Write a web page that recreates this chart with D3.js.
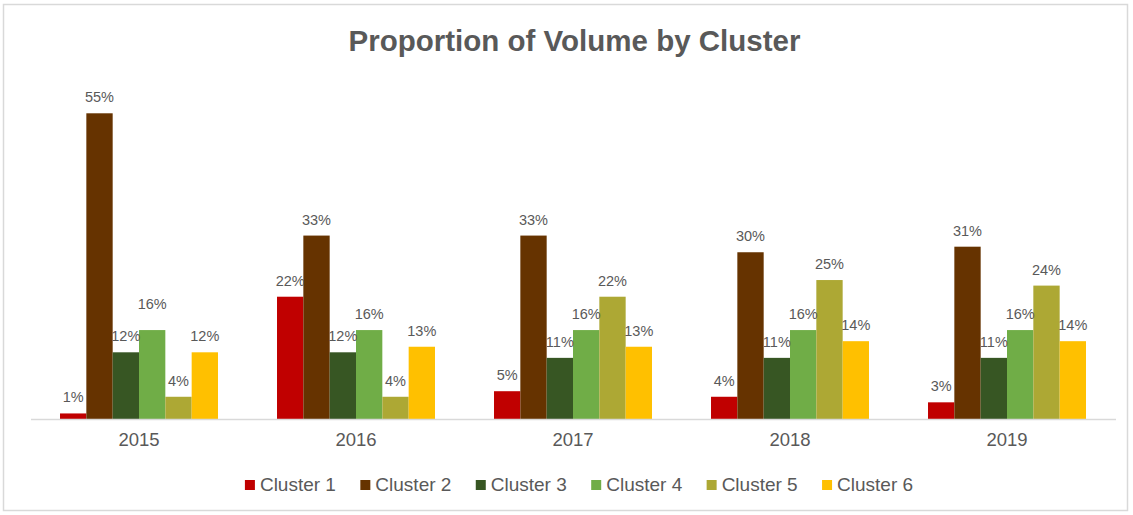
<!DOCTYPE html>
<html>
<head>
<meta charset="utf-8">
<script src="https://cdn.jsdelivr.net/npm/d3@7/dist/d3.min.js"></script>
<style>
  html, body { margin: 0; padding: 0; background: #ffffff; }
  svg { display: block; font-family: "Liberation Sans", Arial, sans-serif; }
</style>
</head>
<body>
<svg id="chart" width="1133" height="515"></svg>
<script>
// Years on the category axis
const years = ["2015", "2016", "2017", "2018", "2019"];
// Series names
const clusters = ["Cluster 1", "Cluster 2", "Cluster 3", "Cluster 4", "Cluster 5", "Cluster 6"];
// Share of volume per cluster, in percent, one value per year
const cluster1 = [1, 22, 5, 4, 3];
const cluster2 = [55, 33, 33, 30, 31];
const cluster3 = [12, 12, 11, 11, 11];
const cluster4 = [16, 16, 16, 16, 16];
const cluster5 = [4, 4, 22, 25, 24];
const cluster6 = [12, 13, 13, 14, 14];

const seriesValues = [cluster1, cluster2, cluster3, cluster4, cluster5, cluster6];
const colors = ["#C00000", "#663300", "#375623", "#70AD47", "#ADA834", "#FFC000"];

const svg = d3.select("#chart");
const plot = { left: 30.5, right: 1115.5, top: 85.5, bottom: 419 };
const textColor = "#595959";

// Chart frame
svg.append("rect")
  .attr("x", 3.5).attr("y", 4.5)
  .attr("width", 1124).attr("height", 506)
  .attr("fill", "#ffffff")
  .attr("stroke", "#D9D9D9").attr("stroke-width", 1.5);

// Title
svg.append("text")
  .attr("x", 574.5).attr("y", 51)
  .attr("text-anchor", "middle")
  .attr("font-size", 29.5).attr("font-weight", "bold")
  .attr("fill", textColor)
  .text("Proportion of Volume by Cluster");

// Scales
const x0 = d3.scaleBand().domain(years)
  .range([plot.left, plot.right])
  .paddingInner(0.272).paddingOuter(0.136);
const x1 = d3.scaleBand().domain(clusters).range([0, x0.bandwidth()]);
const y = d3.scaleLinear().domain([0, 60]).range([plot.bottom, plot.top]);

const color = d3.scaleOrdinal().domain(clusters).range(colors);

// Flatten into one record per bar
const rows = [];
years.forEach((yr, i) => {
  clusters.forEach((c, j) => {
    rows.push({ year: yr, cluster: c, value: seriesValues[j][i] });
  });
});

// Bars
const groups = svg.append("g").selectAll("g")
  .data(years).join("g")
  .attr("transform", d => `translate(${x0(d)},0)`);

groups.selectAll("rect")
  .data(yr => rows.filter(r => r.year === yr))
  .join("rect")
  .attr("x", d => x1(d.cluster))
  .attr("y", d => y(d.value))
  .attr("width", x1.bandwidth())
  .attr("height", d => y(0) - y(d.value))
  .attr("fill", d => color(d.cluster));

// Value labels above each bar (one label lifted where it would collide)
const labelLift = { "2015|Cluster 4": 10 };
groups.selectAll("text")
  .data(yr => rows.filter(r => r.year === yr))
  .join("text")
  .attr("x", d => x1(d.cluster) + x1.bandwidth() / 2)
  .attr("y", d => y(d.value) - 11 - (labelLift[d.year + "|" + d.cluster] || 0))
  .attr("text-anchor", "middle")
  .attr("font-size", 14.5)
  .attr("fill", textColor)
  .text(d => d.value + "%");

// Category axis
const xAxis = svg.append("g")
  .attr("transform", `translate(0,${plot.bottom})`)
  .call(d3.axisBottom(x0).tickSize(0).tickPadding(14).tickSizeOuter(0));
xAxis.select(".domain").attr("stroke", "#D9D9D9").attr("stroke-width", 1.5);
xAxis.selectAll("text")
  .attr("font-size", 18.5)
  .attr("font-family", "Liberation Sans, Arial, sans-serif")
  .attr("fill", textColor);

// Legend, centred under the plot
const legend = svg.append("g");
const items = legend.selectAll("g").data(clusters).join("g");
items.append("rect")
  .attr("width", 10).attr("height", 10)
  .attr("y", -10)
  .attr("fill", d => color(d));
items.append("text")
  .attr("x", 15).attr("y", 1)
  .attr("font-size", 19)
  .attr("fill", textColor)
  .text(d => d);

let cursor = 0;
const itemGap = 24.4;
items.each(function () {
  const g = d3.select(this);
  const w = 15 + g.select("text").node().getComputedTextLength();
  g.attr("transform", `translate(${cursor},0)`);
  cursor += w + itemGap;
});
const legendWidth = cursor - itemGap;
legend.attr("transform", `translate(${579 - legendWidth / 2},490)`);
</script>
</body>
</html>
